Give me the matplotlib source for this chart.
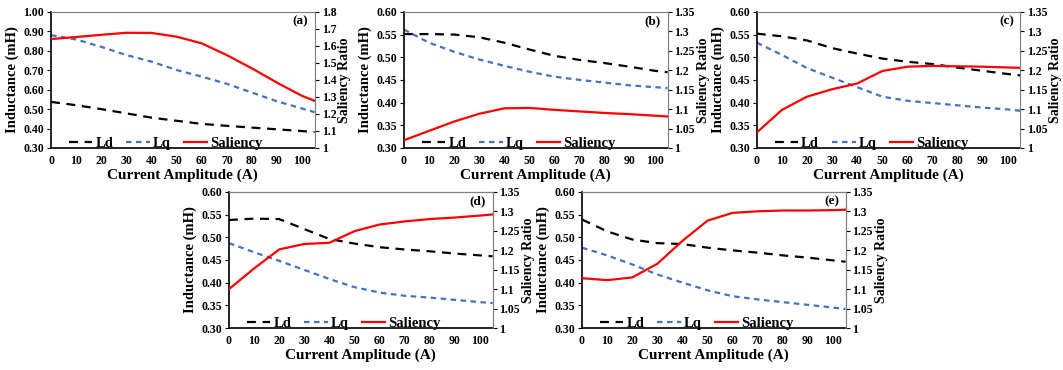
import matplotlib
matplotlib.use("Agg")
import matplotlib.pyplot as plt
from matplotlib.ticker import FuncFormatter, MultipleLocator

plt.rcParams["font.family"] = ["Liberation Serif", "DejaVu Serif"]
plt.rcParams["font.weight"] = "bold"

# current amplitude (A)
current = [0, 10, 20, 30, 40, 50, 60, 70, 80, 90, 100, 105]

# (a)
ld_a = [0.537, 0.52, 0.50, 0.478, 0.456, 0.440, 0.424, 0.414, 0.405, 0.396, 0.387, 0.382]
lq_a = [0.880, 0.858, 0.820, 0.778, 0.744, 0.701, 0.667, 0.630, 0.585, 0.540, 0.503, 0.484]
sal_a = [1.640, 1.652, 1.665, 1.677, 1.676, 1.654, 1.615, 1.546, 1.468, 1.384, 1.306, 1.277]
# (b)
ld_b = [0.551, 0.551, 0.550, 0.544, 0.532, 0.517, 0.503, 0.494, 0.487, 0.479, 0.470, 0.467]
lq_b = [0.561, 0.532, 0.512, 0.495, 0.481, 0.468, 0.457, 0.450, 0.444, 0.438, 0.434, 0.432]
sal_b = [1.020, 1.044, 1.068, 1.088, 1.102, 1.103, 1.098, 1.094, 1.090, 1.087, 1.083, 1.081]
# (c)
ld_c = [0.552, 0.546, 0.537, 0.520, 0.508, 0.497, 0.490, 0.485, 0.477, 0.470, 0.463, 0.460]
lq_c = [0.532, 0.505, 0.476, 0.455, 0.434, 0.413, 0.404, 0.399, 0.394, 0.389, 0.385, 0.382]
sal_c = [1.040, 1.098, 1.132, 1.151, 1.166, 1.198, 1.209, 1.211, 1.210, 1.209, 1.207, 1.206]
# (d)
ld_d = [0.538, 0.541, 0.540, 0.518, 0.496, 0.486, 0.478, 0.473, 0.469, 0.464, 0.460, 0.458]
lq_d = [0.487, 0.467, 0.448, 0.428, 0.408, 0.390, 0.378, 0.371, 0.367, 0.362, 0.357, 0.355]
sal_d = [1.100, 1.153, 1.202, 1.216, 1.219, 1.249, 1.266, 1.274, 1.280, 1.284, 1.289, 1.292]
# (e)
ld_e = [0.539, 0.513, 0.495, 0.487, 0.485, 0.477, 0.471, 0.466, 0.460, 0.455, 0.449, 0.446]
lq_e = [0.477, 0.460, 0.440, 0.418, 0.400, 0.383, 0.370, 0.363, 0.357, 0.351, 0.345, 0.342]
sal_e = [1.128, 1.123, 1.130, 1.165, 1.224, 1.276, 1.296, 1.300, 1.302, 1.302, 1.303, 1.304]

panels = [
    ("(a)", ld_a, lq_a, sal_a, (0.30, 1.00), 0.10, (1.0, 1.8), 0.1),
    ("(b)", ld_b, lq_b, sal_b, (0.30, 0.60), 0.05, (1.0, 1.35), 0.05),
    ("(c)", ld_c, lq_c, sal_c, (0.30, 0.60), 0.05, (1.0, 1.35), 0.05),
    ("(d)", ld_d, lq_d, sal_d, (0.30, 0.60), 0.05, (1.0, 1.35), 0.05),
    ("(e)", ld_e, lq_e, sal_e, (0.30, 0.60), 0.05, (1.0, 1.35), 0.05),
]

# axes rectangles in figure fractions
boxes = [
    (0.048, 0.600, 0.248, 0.368),
    (0.380, 0.600, 0.248, 0.368),
    (0.712, 0.600, 0.248, 0.368),
    (0.2154, 0.1135, 0.248, 0.368),
    (0.5475, 0.1135, 0.248, 0.368),
]

fig = plt.figure(figsize=(10.63, 3.70), dpi=100)
gen = FuncFormatter(lambda v, p: "%g" % round(v, 2))

for (tag, ld, lq, sal, ylim, ystep, rlim, rstep), box in zip(panels, boxes):
    ax = fig.add_axes(box)
    ax2 = ax.twinx()
    l1, = ax.plot(current, ld, color="black", lw=1.6, dashes=(4, 3), label="Ld")
    l2, = ax.plot(current, lq, color="#4472C4", lw=1.6, dashes=(2.5, 2), label="Lq")
    l3, = ax2.plot(current, sal, color="#FF0000", lw=1.6, label="Saliency")

    ax.set_xlim(0, 105)
    ax.set_ylim(*ylim)
    ax2.set_ylim(*rlim)
    ax.xaxis.set_major_locator(MultipleLocator(10))
    ax.yaxis.set_major_locator(MultipleLocator(ystep))
    ax2.yaxis.set_major_locator(MultipleLocator(rstep))
    ax.yaxis.set_major_formatter(FuncFormatter(lambda v, p: "%.2f" % v))
    ax2.yaxis.set_major_formatter(gen)

    for a in (ax, ax2):
        a.tick_params(labelsize=8.5, length=3, width=0.8, pad=2, direction="out")
    ax.tick_params(axis="x", length=0, pad=5)

    ax.spines["left"].set_linewidth(1.2)
    ax.spines["bottom"].set_linewidth(1.2)
    for s in ("top", "right"):
        ax2.spines[s].set_color("#808080")
        ax.spines[s].set_color("#808080")
    ax2.spines["left"].set_visible(False)
    ax2.spines["bottom"].set_visible(False)

    ax.set_xlabel("Current Amplitude (A)", fontsize=11, fontweight="bold", labelpad=1)
    ax.set_ylabel("Inductance (mH)", fontsize=10.5, fontweight="bold", labelpad=3)
    ax2.set_ylabel("Saliency Ratio", fontsize=10, fontweight="bold", rotation=90, labelpad=1)

    ax2.text(0.975, 0.93, tag, transform=ax.transAxes, ha="right", va="center",
             fontsize=9.5, fontweight="bold")

    ax2.legend(handles=[l1, l2, l3], loc="lower left", bbox_to_anchor=(0.03, -0.09),
               ncol=3, frameon=False, fontsize=10.5, handlelength=1.6,
               handletextpad=0.2, columnspacing=0.9, borderaxespad=0.3)

fig.savefig("out.png", dpi=100)
